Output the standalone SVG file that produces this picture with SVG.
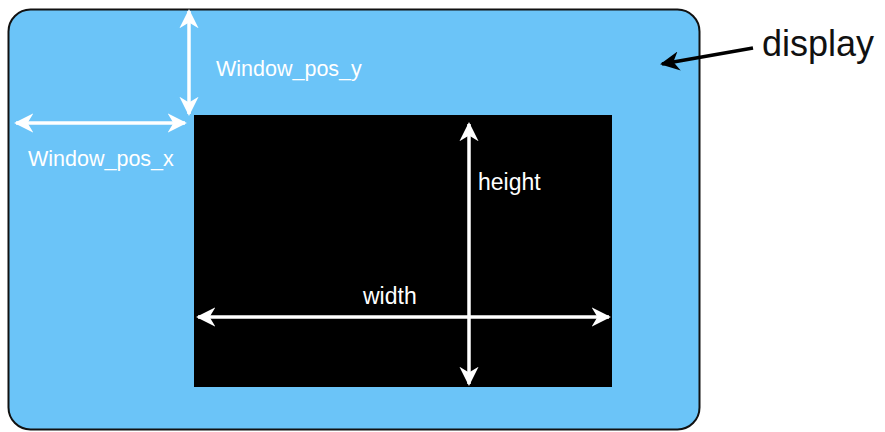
<svg xmlns="http://www.w3.org/2000/svg" width="885" height="432" viewBox="0 0 885 432">
<defs>
<style>
.lbl{font-family:"Liberation Sans",Arial,sans-serif;fill:#ffffff;font-size:21.5px}
.big{font-size:23px}
.dim{stroke:#ffffff;stroke-width:3.5;fill:none;marker-start:url(#aw);marker-end:url(#aw)}
</style>
<marker id="aw" viewBox="0 0 10 10" refX="9" refY="5" markerWidth="5.5" markerHeight="5.5" orient="auto-start-reverse" markerUnits="strokeWidth">
<path d="M0,0 L10,5 L0,10 L3,5 Z" fill="#ffffff"/>
</marker>
<marker id="ab" viewBox="0 0 10 10" refX="9" refY="5" markerWidth="5.5" markerHeight="5.5" orient="auto" markerUnits="strokeWidth">
<path d="M0,0 L10,5 L0,10 L3,5 Z" fill="#000000"/>
</marker>
</defs>
<rect width="885" height="432" fill="#ffffff"/>
<g id="display">
<rect x="8.5" y="9.5" width="691" height="420" rx="22" ry="22" fill="#6BC4F8" stroke="#111111" stroke-width="2"/>
</g>
<g id="window">
<rect x="194" y="115" width="418" height="272" fill="#000000"/>
</g>
<g id="connectors">
<line class="dim" x1="189" y1="11" x2="189" y2="114"/>
<line class="dim" x1="16" y1="123" x2="185" y2="123"/>
<line class="dim" x1="469" y1="124" x2="469" y2="384"/>
<line class="dim" x1="198" y1="317" x2="609" y2="317"/>
<line x1="753" y1="48" x2="662" y2="64" stroke="#000000" stroke-width="3.5" marker-end="url(#ab)"/>
</g>
<g id="labels">
<text class="lbl" x="216" y="76">Window_pos_y</text>
<text class="lbl" x="28" y="166">Window_pos_x</text>
<text class="lbl big" x="478" y="190">height</text>
<text class="lbl big" x="363" y="304">width</text>
<text x="762" y="56" font-family="'Liberation Sans',Arial,sans-serif" font-size="36" fill="#111111">display</text>
</g>
</svg>
